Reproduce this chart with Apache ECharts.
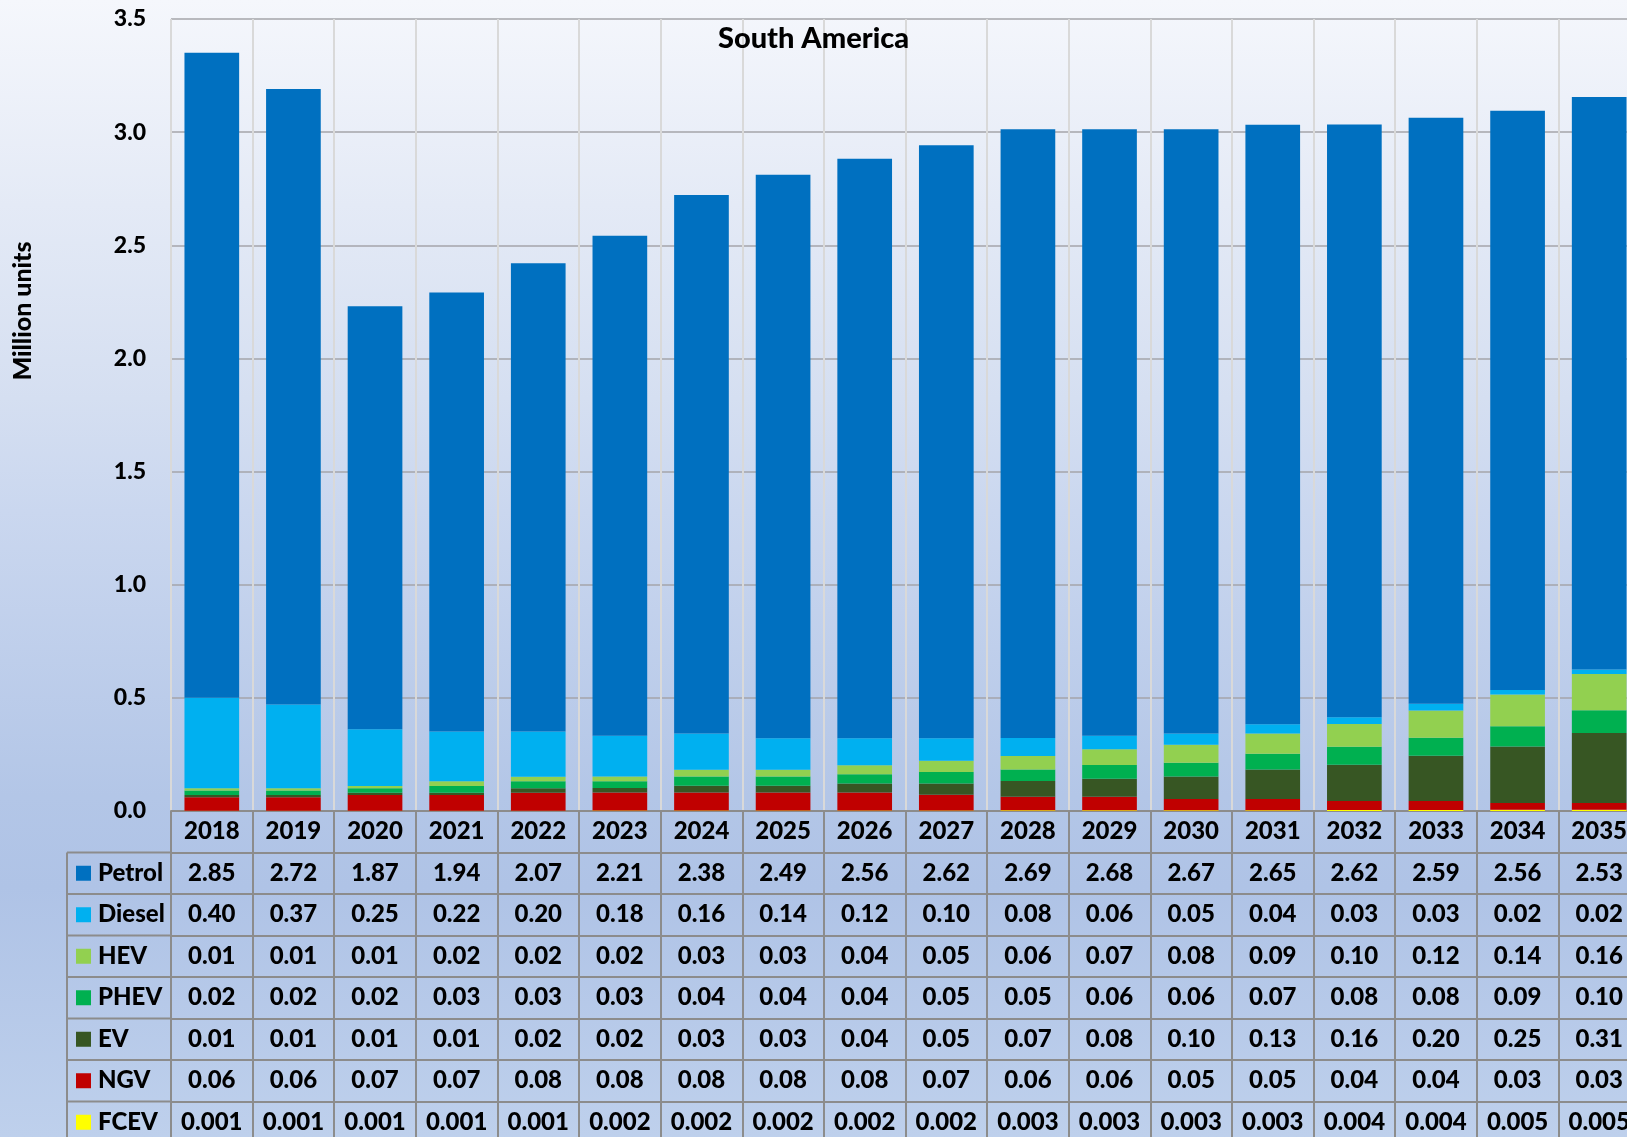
<!DOCTYPE html>
<html>
<head>
<meta charset="utf-8">
<title>South America</title>
<script src="https://cdn.jsdelivr.net/npm/echarts@6/dist/echarts.min.js"></script>
<style>
  html, body { margin: 0; padding: 0; }
  #chart { width: 1627px; height: 1137px; }
</style>
</head>
<body>
<div id="chart"></div>
<script>
// Vehicle sales in South America by powertrain, million units
const years = ['2018', '2019', '2020', '2021', '2022', '2023', '2024', '2025', '2026',
               '2027', '2028', '2029', '2030', '2031', '2032', '2033', '2034', '2035'];

const petrol = [2.85, 2.72, 1.87, 1.94, 2.07, 2.21, 2.38, 2.49, 2.56, 2.62, 2.69, 2.68, 2.67, 2.65, 2.62, 2.59, 2.56, 2.53];
const diesel = [0.40, 0.37, 0.25, 0.22, 0.20, 0.18, 0.16, 0.14, 0.12, 0.10, 0.08, 0.06, 0.05, 0.04, 0.03, 0.03, 0.02, 0.02];
const hev    = [0.01, 0.01, 0.01, 0.02, 0.02, 0.02, 0.03, 0.03, 0.04, 0.05, 0.06, 0.07, 0.08, 0.09, 0.10, 0.12, 0.14, 0.16];
const phev   = [0.02, 0.02, 0.02, 0.03, 0.03, 0.03, 0.04, 0.04, 0.04, 0.05, 0.05, 0.06, 0.06, 0.07, 0.08, 0.08, 0.09, 0.10];
const ev     = [0.01, 0.01, 0.01, 0.01, 0.02, 0.02, 0.03, 0.03, 0.04, 0.05, 0.07, 0.08, 0.10, 0.13, 0.16, 0.20, 0.25, 0.31];
const ngv    = [0.06, 0.06, 0.07, 0.07, 0.08, 0.08, 0.08, 0.08, 0.08, 0.07, 0.06, 0.06, 0.05, 0.05, 0.04, 0.04, 0.03, 0.03];
const fcev   = [0.001, 0.001, 0.001, 0.001, 0.001, 0.002, 0.002, 0.002, 0.002, 0.002, 0.003, 0.003, 0.003, 0.003, 0.004, 0.004, 0.005, 0.005];

const yTicks = { min: 0, max: 3.5, step: 0.5 };

// Table rows, top to bottom (same order as the legend column)
const rows = [
  { name: 'Petrol', values: petrol, color: '#0070C0', digits: 2 },
  { name: 'Diesel', values: diesel, color: '#00B0F0', digits: 2 },
  { name: 'HEV',    values: hev,    color: '#92D050', digits: 2 },
  { name: 'PHEV',   values: phev,   color: '#00B050', digits: 2 },
  { name: 'EV',     values: ev,     color: '#375623', digits: 2 },
  { name: 'NGV',    values: ngv,    color: '#C00000', digits: 2 },
  { name: 'FCEV',   values: fcev,   color: '#FFFF00', digits: 3 }
];

// Layout
const FONT = 'Lato';
const WEIGHT = 900;
const GRID_LEFT = 171, GRID_TOP = 19, GRID_W = 1469, GRID_H = 792;
const ROW_H = 41.5;
const TABLE_LINE = '#8C8C8C';
const LEGEND_LEFT = 67;
const CELL_FONT = 24;

const chart = echarts.init(document.getElementById('chart'), null, { renderer: 'canvas' });

// Bars stack from the bottom up in reverse table order
const stackOrder = rows.slice().reverse();
const series = stackOrder.map(r => ({
  name: r.name,
  type: 'bar',
  stack: 'total',
  barWidth: '67%',
  itemStyle: { color: r.color },
  emphasis: { disabled: true },
  data: r.values
}));

const cellLabel = {
  interval: 0, margin: ROW_H / 2, verticalAlign: 'middle',
  fontFamily: FONT, fontWeight: WEIGHT, fontSize: CELL_FONT, color: '#000'
};

// Main category axis: year header, column split lines and table verticals
const xAxes = [{
  type: 'category',
  gridIndex: 0,
  position: 'bottom',
  data: years,
  boundaryGap: true,
  axisLine: { show: true, lineStyle: { color: TABLE_LINE, width: 2 } },
  axisTick: { show: true, interval: 0, length: 340, lineStyle: { color: TABLE_LINE, width: 2 } },
  splitLine: { show: true, interval: 0, lineStyle: { color: '#D9D9D9', width: 2 } },
  axisLabel: cellLabel
}];

// One axis per table row, offset downwards, labelled with the row values
rows.forEach((r, i) => {
  xAxes.push({
    type: 'category',
    gridIndex: 0,
    position: 'bottom',
    offset: ROW_H * (i + 1),
    data: r.values.map(v => v.toFixed(r.digits)),
    boundaryGap: true,
    axisLine: { show: true, lineStyle: { color: TABLE_LINE, width: 2 } },
    axisTick: { show: false },
    splitLine: { show: false },
    axisLabel: cellLabel
  });
});

// Legend column: grid lines, colour keys and series names
const tableTop = GRID_TOP + GRID_H + ROW_H;
const legendCells = [];
for (let i = 0; i <= rows.length; i++) {
  const y = tableTop + ROW_H * i;
  legendCells.push({
    type: 'line',
    shape: { x1: LEGEND_LEFT, y1: y, x2: GRID_LEFT, y2: y },
    style: { stroke: TABLE_LINE, lineWidth: 2 },
    silent: true
  });
}
legendCells.push({
  type: 'line',
  shape: { x1: LEGEND_LEFT, y1: tableTop, x2: LEGEND_LEFT, y2: 1137 },
  style: { stroke: TABLE_LINE, lineWidth: 2 },
  silent: true
});
rows.forEach((r, i) => {
  const cy = tableTop + ROW_H * (i + 0.5);
  legendCells.push({
    type: 'rect',
    shape: { x: 76, y: cy - 7.5, width: 15, height: 15 },
    style: { fill: r.color },
    silent: true
  });
  legendCells.push({
    type: 'text',
    x: 98,
    y: cy,
    style: {
      text: r.name,
      fontFamily: FONT, fontWeight: WEIGHT, fontSize: CELL_FONT, fill: '#000',
      align: 'left', verticalAlign: 'middle'
    },
    silent: true
  });
});

const option = {
  animation: false,
  backgroundColor: {
    type: 'linear', x: 0, y: 0, x2: 0, y2: 1,
    colorStops: [
      { offset: 0.00, color: '#F5F7FC' },
      { offset: 0.18, color: '#E4EAF6' },
      { offset: 0.35, color: '#D5DFF1' },
      { offset: 0.45, color: '#CAD7EF' },
      { offset: 0.70, color: '#B3C6E7' },
      { offset: 0.78, color: '#AFC3E6' },
      { offset: 1.00, color: '#BED0EC' }
    ]
  },
  title: {
    text: 'South America',
    left: 'center',
    top: 24,
    padding: 0,
    textStyle: { fontFamily: FONT, fontWeight: WEIGHT, fontSize: 29, color: '#000' }
  },
  grid: {
    left: GRID_LEFT, top: GRID_TOP, width: GRID_W, height: GRID_H,
    outerBoundsMode: 'none'
  },
  xAxis: xAxes,
  yAxis: {
    type: 'value',
    min: yTicks.min,
    max: yTicks.max,
    interval: yTicks.step,
    axisLine: { show: false },
    axisTick: { show: false },
    splitLine: { show: true, lineStyle: { color: '#A4A4AA', width: 1.5 } },
    axisLabel: {
      margin: 25,
      formatter: v => v.toFixed(1),
      fontFamily: FONT, fontWeight: WEIGHT, fontSize: 23, color: '#000'
    }
  },
  graphic: legendCells.concat([{
    type: 'text',
    x: 23,
    y: 311,
    rotation: Math.PI / 2,
    style: {
      text: 'Million units',
      fontFamily: FONT, fontWeight: WEIGHT, fontSize: 25, fill: '#000',
      align: 'center', verticalAlign: 'middle'
    },
    silent: true
  }]),
  series: series
};

chart.setOption(option);
</script>
</body>
</html>
